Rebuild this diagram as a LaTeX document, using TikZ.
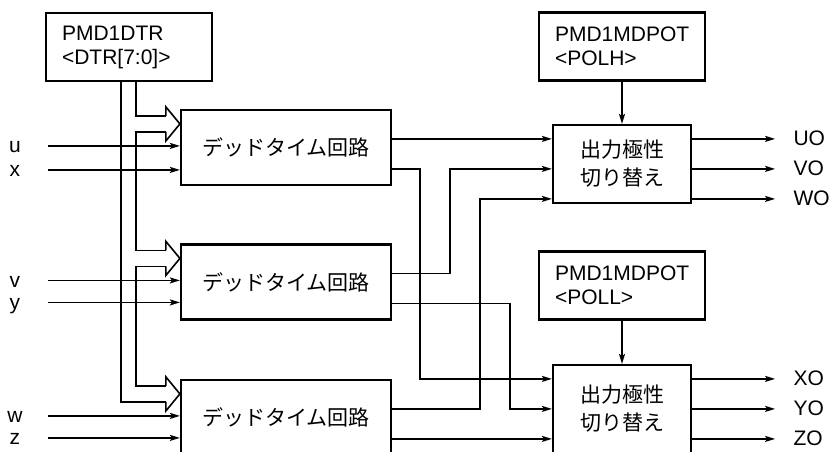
\documentclass[tikz,border=0pt]{standalone}
\usepackage{fontspec}
\setmainfont{Liberation Sans}
\newfontfamily\jp{Noto Sans CJK JP}
\usetikzlibrary{arrows.meta, calc}

\tikzset{
    reg/.style={draw, line width=1.1pt, minimum width=83pt, minimum height=34pt,
        text width=67pt, inner xsep=8pt, align=left},
    dtbox/.style={draw, line width=1.1pt, minimum width=105pt, minimum height=37.5pt,
        font={\jp\fontsize{10.5}{12}\selectfont}},
    selbox/.style={draw, line width=1.1pt, minimum width=69pt, minimum height=39pt,
        align=center, font={\jp\fontsize{10.5}{14}\selectfont}},
    sig/.style={line width=0.8pt, -{Stealth[length=5pt, width=3pt, inset=1pt]}},
    bus/.style={line width=0.8pt, line join=miter},
    pin/.style={inner sep=0pt, text height=7pt, text depth=0pt},
}

\begin{document}
\begin{tikzpicture}[x=0.5pt, y=-0.5pt, font=\fontsize{10.5}{12}\selectfont]
    \useasboundingbox (0,0) rectangle (829,451);
    \clip (0,0) rectangle (829,451);

    % Registers
    \node[reg] (dtr) at (129,47) {PMD1DTR\\<DTR[7:0]>};
    \node[reg] (polh) at (622,46.5) {PMD1MDPOT\\<POLH>};
    \node[reg] (poll) at (622,285.5) {PMD1MDPOT\\<POLL>};

    % Dead time blocks
    \node[dtbox] (dt1) at (286,147.5) {デッドタイム回路};
    \node[dtbox] (dt2) at (286,282) {デッドタイム回路};
    \node[dtbox] (dt3) at (286,417.5) {デッドタイム回路};

    % Polarity blocks (the lower one runs off the page)
    \node[selbox] (sel1) at (622,164) {出力極性\\切り替え};
    \node[selbox, minimum height=44pt] (sel2) at (622,409) {出力極性\\切り替え};

    \draw[sig] (polh) -- (sel1);
    \draw[sig] (poll) -- (sel2);

    % Phase inputs
    \foreach \b/\p/\k in {dt1/u/37, dt1/x/61, dt2/v/37, dt2/y/59, dt3/w/37, dt3/z/59} {
        \node[pin] (in-\p) at ($(\b.north west)+(-165,\k)$) {\p};
        \coordinate (\p0) at ($(\b.north west)+(-132,\k)$);
        \draw[sig] (\p0) -- (\p0 -| \b.west);
    }

    % Bus from PMD1DTR with hollow heads
    \foreach \b in {dt1,dt2,dt3} {
        \coordinate (\b-hu) at ($(\b.north west)+(-14,7)$);
        \coordinate (\b-hl) at ($(\b.north west)+(-14,23)$);
        \draw[bus] (\b-hu) -- ++(0,-9) -- ($(\b.north west)+(0,15)$)
            -- ($(\b.north west)+(-14,32)$) -- (\b-hl);
    }
    \coordinate (bl) at (121,0);
    \coordinate (br) at (136,0);
    \draw[bus] (br |- dtr.south) |- (dt1-hu);
    \draw[bus] (dt1-hl) -| (br |- dt2-hu) -- (dt2-hu);
    \draw[bus] (dt2-hl) -| (br |- dt3-hu) -- (dt3-hu);
    \draw[bus] (bl |- dtr.south) |- (dt3-hl);

    % Dead time outputs to polarity inputs
    \foreach \b in {dt1,dt2,dt3} {
        \coordinate (\b-o1) at ($(\b.north east)+(0,30)$);
        \coordinate (\b-o2) at ($(\b.north east)+(0,60)$);
    }
    \foreach \s in {sel1,sel2} {
        \coordinate (\s-i1) at ($(\s.north west)+(0,15)$);
        \coordinate (\s-i2) at ($(\s.north west)+(0,45)$);
        \coordinate (\s-i3) at ($(\s.north west)+(0,75)$);
    }
    \coordinate (r1) at (420,0);
    \coordinate (r2) at (450,0);
    \coordinate (r3) at (480,0);
    \coordinate (r4) at (510,0);
    \draw[sig] (dt1-o1) -- (sel1-i1);
    \draw[sig] (dt1-o2) -| (r1 |- sel2-i1) -- (sel2-i1);
    \draw[sig] (dt2-o1) -| (r2 |- sel1-i2) -- (sel1-i2);
    \draw[sig] (dt2-o2) -| (r4 |- sel2-i2) -- (sel2-i2);
    \draw[sig] (dt3-o1) -| (r3 |- sel1-i3) -- (sel1-i3);
    \draw[sig] (dt3-o2) -- (sel2-i3);

    % Outputs
    \foreach \s/\o/\k in {sel1/UO/15, sel1/VO/45, sel1/WO/75, sel2/XO/15, sel2/YO/45, sel2/ZO/75} {
        \coordinate (\o-e) at ($(\s.north east)+(0,\k)$);
        \node[pin, anchor=west] (\o) at ($(\o-e)+(101,0)$) {\o};
        \draw[sig, shorten >=9pt] (\o-e) -- (\o.west);
    }
\end{tikzpicture}
\end{document}
